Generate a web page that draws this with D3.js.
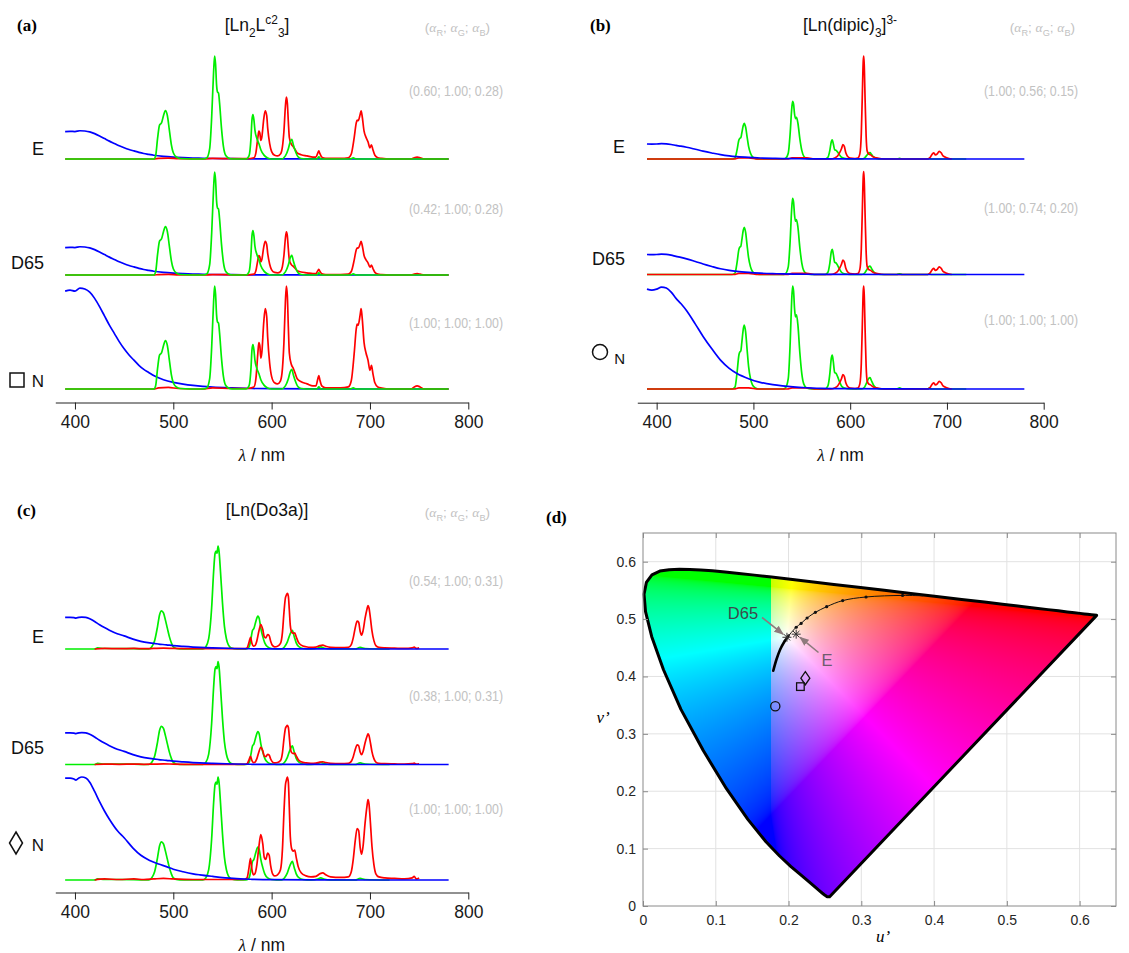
<!DOCTYPE html>
<html><head><meta charset="utf-8">
<script src="https://cdn.jsdelivr.net/npm/d3@7"></script>
<style>body{margin:0;background:#fff} text{font-family:"Liberation Sans",Arial,sans-serif}</style>
</head><body>
<svg id="chart" width="1129" height="953" xmlns="http://www.w3.org/2000/svg"></svg>
<script>
// ---------------- DATA ----------------
const wavelengthDomain = [380, 800];
const majorTicks = [400, 500, 600, 700, 800];
const minorTicks = d3.range(380, 801, 10);
const rowNames = ["E", "D65", "N"];

// Panel (a) [Ln2Lc23]  (normalised N-row spectra)
const blueA = [[390,0.95],[395,0.96],[400,0.95],[405,0.98],[410,0.97],[415,0.94],[420,0.88],[425,0.8],[430,0.71],[435,0.62],[440,0.54],[445,0.46],[450,0.39],[455,0.33],[460,0.28],[465,0.23],[470,0.19],[475,0.16],[480,0.13],[490,0.09],[500,0.065],[510,0.048],[520,0.035],[530,0.025],[540,0.018],[560,0.01],[580,0.005],[600,0.003],[650,0.001],[700,0],[780,0]];
const greenA = [[390,0],[480,0],[482,0.03],[484,0.2],[486,0.33],[487,0.34],[488,0.35],[490,0.42],[492,0.47],[494,0.42],[496,0.28],[498,0.14],[500,0.06],[503,0.02],[507,0.005],[530,0],[534,0.01],[537,0.1],[539,0.4],[541,0.85],[542,1.0],[543,0.92],[544,0.72],[545,0.65],[546,0.64],[547,0.55],[549,0.3],[551,0.12],[553,0.04],[556,0.01],[560,0],[574,0],[577,0.03],[579,0.2],[580,0.38],[581,0.43],[582,0.38],[583,0.28],[585,0.2],[587,0.15],[589,0.09],[592,0.04],[596,0.01],[600,0],[610,0],[614,0.03],[617,0.1],[619,0.17],[620.5,0.19],[622,0.14],[624,0.08],[627,0.02],[630,0.005],[640,0],[646,0],[648,0.02],[650,0],[680,0],[683,0.01],[686,0],[780,0]];
const redA = [[390,0],[480,0],[485,0.01],[495,0.015],[505,0.005],[530,0],[540,0.01],[560,0.005],[575,0.005],[582,0.02],[584,0.1],[586,0.35],[587,0.45],[588,0.42],[589,0.3],[590,0.35],[592,0.65],[593.5,0.78],[595,0.7],[596,0.5],[598,0.25],[600,0.12],[603,0.06],[606,0.05],[609,0.08],[611,0.2],[612.5,0.45],[614,0.85],[615,1.0],[616,0.9],[617,0.6],[618,0.35],[620,0.24],[622,0.2],[624,0.15],[626,0.1],[630,0.07],[636,0.05],[642,0.03],[645,0.03],[647,0.1],[648,0.13],[649,0.09],[651,0.03],[655,0.01],[670,0.01],[678,0.02],[681,0.08],[684,0.35],[686,0.58],[687,0.63],[688,0.62],[690,0.72],[691,0.78],[692,0.7],[694,0.45],[696,0.35],[698,0.28],[700,0.18],[701.5,0.23],[703,0.15],[705,0.06],[708,0.02],[712,0.01],[720,0],[742,0],[745,0.02],[748,0.03],[751,0.02],[755,0],[780,0]];
const alphaA = [[0.60,1.00,0.28],[0.42,1.00,0.28],[1.00,1.00,1.00]];

// Panel (b) [Ln(dipic)3]3-
const blueB = [[390,0.97],[395,0.96],[400,0.97],[405,0.99],[410,0.98],[415,0.94],[420,0.88],[425,0.83],[431,0.76],[440,0.63],[448,0.51],[457,0.39],[466,0.28],[475,0.2],[483,0.15],[495,0.1],[507,0.065],[520,0.042],[530,0.03],[541,0.02],[555,0.012],[570,0.007],[600,0.003],[650,0.001],[700,0],[780,0]];
const greenB = [[390,0],[478,0],[481,0.02],[483,0.15],[485,0.33],[486,0.36],[487,0.37],[488,0.45],[489.5,0.58],[490.5,0.62],[492,0.55],[493.5,0.38],[495,0.22],[497,0.1],[499,0.04],[502,0.01],[506,0],[530,0],[533,0.01],[536,0.1],[538,0.45],[539.5,0.85],[540.5,1.0],[541.5,0.95],[542.5,0.78],[543.5,0.7],[544.5,0.72],[546,0.62],[548,0.35],[550,0.15],[552,0.05],[555,0.01],[560,0],[574,0],[577,0.03],[579,0.15],[580.5,0.3],[581.5,0.33],[582.5,0.27],[584,0.16],[585.5,0.15],[587,0.12],[589,0.07],[591,0.03],[594,0.01],[600,0],[612,0],[615,0.02],[617,0.06],[619,0.1],[620.5,0.11],[622,0.08],[624,0.04],[627,0.01],[632,0],[648,0],[651,0.01],[654,0],[680,0],[682,0.01],[684,0],[720,0]];
const redB = [[390,0],[480,0],[485,0.01],[495,0.01],[505,0],[535,0],[540,0.01],[555,0.01],[565,0],[580,0],[584,0.01],[587,0.03],[589,0.06],[591,0.1],[592.5,0.14],[594,0.12],[595.5,0.06],[597,0.03],[600,0.01],[605,0.005],[608,0.01],[610,0.05],[611.5,0.25],[612.5,0.6],[613.5,0.95],[614,1.0],[614.5,0.92],[615.5,0.55],[616.5,0.22],[617.5,0.08],[619,0.05],[621,0.04],[624,0.02],[628,0.01],[635,0],[680,0],[683,0.02],[685,0.05],[686.5,0.06],[688,0.04],[690,0.05],[692,0.075],[694,0.06],[696,0.03],[699,0.015],[702,0.005],[705,0]];
const alphaB = [[1.00,0.56,0.15],[1.00,0.74,0.20],[1.00,1.00,1.00]];

// Panel (c) [Ln(Do3a)]
const blueC = [[390,0.99],[395,0.99],[399,0.98],[401,0.97],[404,0.99],[407,1.0],[411,0.99],[415,0.95],[420,0.86],[425,0.76],[430,0.67],[435,0.59],[443,0.48],[450,0.41],[459,0.31],[467,0.24],[476,0.19],[485,0.155],[493,0.13],[500,0.105],[510,0.08],[520,0.06],[527,0.05],[540,0.035],[561,0.015],[580,0.007],[600,0.003],[650,0.001],[700,0],[780,0]];
const greenC = [[390,0],[420,0],[423,0.01],[430,0.005],[440,0.005],[460,0.003],[475,0],[478,0.02],[481,0.08],[484,0.22],[486,0.33],[488,0.37],[490,0.35],[492,0.28],[494,0.2],[496,0.12],[498,0.06],[500,0.02],[503,0.005],[510,0],[530,0],[533,0.02],[536,0.1],[539,0.4],[541,0.75],[542.5,0.93],[543.5,0.95],[544.5,0.93],[545.5,1.0],[546.5,0.95],[548,0.75],[550,0.45],[552,0.22],[554,0.1],[556,0.04],[559,0.01],[565,0],[574,0],[577,0.02],[579,0.1],[580.5,0.18],[582,0.2],[584,0.27],[586,0.32],[587.5,0.29],[589,0.2],[591,0.12],[593,0.06],[596,0.02],[600,0.005],[610,0],[613,0.02],[616,0.07],[619,0.15],[621,0.18],[623,0.12],[625,0.06],[628,0.02],[632,0.005],[640,0],[647,0.01],[650,0.02],[653,0.01],[660,0],[685,0],[690,0.015],[695,0.005],[720,0]];
const redC = [[420,0],[430,0.01],[445,0.005],[460,0.01],[470,0.005],[480,0.01],[490,0.015],[500,0.01],[520,0.005],[540,0.005],[560,0.005],[572,0.005],[575,0.02],[577,0.12],[578.5,0.21],[580,0.1],[581.5,0.05],[583,0.06],[585,0.15],[587,0.32],[589,0.44],[591,0.35],[592.5,0.22],[594,0.2],[596,0.26],[597.5,0.24],[599,0.14],[601,0.06],[603,0.04],[606,0.05],[609,0.1],[611,0.3],[612.5,0.65],[614,0.92],[615,0.97],[616,1.0],[617,0.95],[618,0.7],[619,0.42],[620.5,0.3],[622,0.28],[623.5,0.29],[625,0.22],[627,0.13],[630,0.07],[635,0.04],[640,0.03],[645,0.035],[649,0.06],[652,0.07],[655,0.05],[660,0.03],[670,0.025],[678,0.03],[681,0.08],[683,0.2],[685,0.38],[687,0.5],[688.5,0.48],[690,0.32],[691.5,0.25],[693,0.33],[695,0.55],[697,0.72],[698,0.78],[699,0.74],[700.5,0.55],[702,0.33],[704,0.15],[706,0.06],[709,0.03],[715,0.02],[725,0.015],[735,0.01],[743,0.02],[745,0.035],[747,0.01],[750,0.02]];
const alphaC = [[0.54,1.00,0.31],[0.38,1.00,0.31],[1.00,1.00,1.00]];

// Panel (d) CIE 1976 u'v'
const uvTicks = [0, 0.1, 0.2, 0.3, 0.4, 0.5, 0.6];
// CIE 1931 2-deg spectral locus chromaticities [nm, x, y]
const spectralLocusXY = [[380,0.1741,0.0050],[385,0.1740,0.0050],[390,0.1738,0.0049],[395,0.1736,0.0049],[400,0.1733,0.0048],[405,0.1730,0.0048],[410,0.1726,0.0048],[415,0.1721,0.0048],[420,0.1714,0.0051],[425,0.1703,0.0058],[430,0.1689,0.0069],[435,0.1669,0.0086],[440,0.1644,0.0109],[445,0.1611,0.0138],[450,0.1566,0.0177],[455,0.1510,0.0227],[460,0.1440,0.0297],[465,0.1355,0.0399],[470,0.1241,0.0578],[475,0.1096,0.0868],[480,0.0913,0.1327],[485,0.0687,0.2007],[490,0.0454,0.2950],[495,0.0235,0.4127],[500,0.0082,0.5384],[505,0.0039,0.6548],[510,0.0139,0.7502],[515,0.0389,0.8120],[520,0.0743,0.8338],[525,0.1142,0.8262],[530,0.1547,0.8059],[535,0.1929,0.7816],[540,0.2296,0.7543],[545,0.2658,0.7243],[550,0.3016,0.6923],[555,0.3373,0.6589],[560,0.3731,0.6245],[565,0.4087,0.5896],[570,0.4441,0.5547],[575,0.4788,0.5202],[580,0.5125,0.4866],[585,0.5448,0.4544],[590,0.5752,0.4242],[595,0.6029,0.3965],[600,0.6270,0.3725],[605,0.6482,0.3514],[610,0.6658,0.3340],[615,0.6801,0.3197],[620,0.6915,0.3083],[625,0.7006,0.2993],[630,0.7079,0.2920],[635,0.7140,0.2859],[640,0.7190,0.2809],[645,0.7230,0.2770],[650,0.7260,0.2740],[655,0.7283,0.2717],[660,0.7300,0.2700],[665,0.7311,0.2689],[670,0.7320,0.2680],[680,0.7334,0.2666],[700,0.7347,0.2653]];
const fillSeamU = 0.1754; // u' left of which the fill shows no red component
// Planckian locus (u', v')
const planckThick = [[0.179,0.410],[0.1835,0.430],[0.1885,0.447],[0.194,0.460],[0.2,0.471]];
const planckThin = [[0.2,0.471],[0.2055,0.479],[0.2105,0.4858],[0.2173,0.4925],[0.2255,0.5019],[0.2369,0.5117],[0.2524,0.5216],[0.2744,0.5322],[0.3065,0.5385],[0.3567,0.5412],[0.385,0.5405]];
const planckDots = [[0.2105,0.4858],[0.2173,0.4925],[0.2255,0.5019],[0.2369,0.5117],[0.2524,0.5216],[0.2744,0.5322],[0.3065,0.5385],[0.3567,0.5412]];
const whitePointNames = ["D65", "E"];
const whitePointU = [0.1978, 0.2105];
const whitePointV = [0.4683, 0.4737];
const sampleSymbols = ["square", "circle", "diamond"];
const sampleU = [0.2163, 0.1818, 0.2231];
const sampleV = [0.3823, 0.3480, 0.3969];

// ---------------- DRAWING ----------------
const svg = d3.select("#chart");
const defs = svg.append("defs");
const colors = {red: "#ff0000", green: "#00ee00", blue: "#0000ff"};
const ALPHA_GRAY = "#c2c2c2";
const SERIF = "'Liberation Serif', 'DejaVu Serif', serif";

function rich(g, x, y, parts, o) {
  const t = g.append("text").attr("x", x).attr("y", y)
    .attr("text-anchor", o.anchor || "start").attr("font-size", o.size)
    .attr("fill", o.fill || "#111");
  let cur = 0;
  parts.forEach(p => {
    const shift = p.sub ? o.size * 0.32 : p.sup ? -o.size * 0.42 : 0;
    const ts = t.append("tspan").text(p.t).attr("dy", shift - cur);
    cur = shift;
    if (p.sub || p.sup) ts.attr("font-size", o.size * 0.68);
    if (p.italic) ts.attr("font-style", "italic");
    if (p.serif) ts.style("font-family", SERIF);
  });
  return t;
}
const greekParts = [{t:"("},{t:"α",italic:true,serif:true},{t:"R",sub:true},{t:"; "},{t:"α",italic:true,serif:true},{t:"G",sub:true},{t:"; "},{t:"α",italic:true,serif:true},{t:"B",sub:true},{t:")"}];

const spectraPanels = [
  {label:"(a)", blue:blueA, green:greenA, red:redA, alpha:alphaA, order:["blue","red","green"],
   x0:55.3, x1:468.3, baselines:[159,275,389], axisY:402.5, top:25,
   title:[{t:"[Ln"},{t:"2",sub:true},{t:"L"},{t:"c2",sup:true},{t:"3",sub:true},{t:"]"}], titleX:257,
   labelX:17, greekRight:490, valRight:503, valY:[90,208,322],
   rowRight:44, rowY:[148,262,380], marker:"square", markerX:17, markerY:380, nSize:17},
  {label:"(b)", blue:blueB, green:greenB, red:redB, alpha:alphaB, order:["green","red","blue"],
   x0:637.3, x1:1043.7, baselines:[159,274.5,389], axisY:402.7, top:25,
   title:[{t:"[Ln(dipic)"},{t:"3",sub:true},{t:"]"},{t:"3-",sup:true}], titleX:850,
   labelX:590, greekRight:1075, valRight:1078, valY:[90,207,319],
   rowRight:625, rowY:[146,258,357], marker:"circle", markerX:600, markerY:352, nSize:15},
  {label:"(c)", blue:blueC, green:greenC, red:redC, alpha:alphaC, order:["green","red","blue"],
   x0:55.3, x1:468.3, baselines:[649,764.5,880], axisY:892.5, top:510,
   title:[{t:"[Ln(Do3a)]"}], titleX:267,
   labelX:17, greekRight:490, valRight:503, valY:[580,695,808],
   rowRight:44, rowY:[636,747,844], marker:"diamond", markerX:16, markerY:843, nSize:17}
];
const ROW_H = 103;

spectraPanels.forEach(P => {
  const g = svg.append("g");
  const x = d3.scaleLinear().domain(wavelengthDomain).range([P.x0, P.x1]);
  g.append("text").attr("x", P.labelX).attr("y", P.top + 6).attr("font-size", 17)
    .attr("font-weight", "bold").style("font-family", SERIF).text(P.label);
  rich(g, P.titleX, P.top + 6, P.title, {anchor:"middle", size:17.5, fill:"#111"});
  rich(g, P.greekRight, P.top + 7, greekParts, {anchor:"end", size:13.5, fill:ALPHA_GRAY});

  P.baselines.forEach((b, r) => {
    const y = d3.scaleLinear().domain([0, 1]).range([b, b - ROW_H]);
    const a = P.alpha[r];
    const scaleOf = {red: a[0], green: a[1], blue: a[2]};
    P.order.forEach(ch => {
      const line = d3.line().x(d => x(d[0])).y(d => y(d[1] * scaleOf[ch])).curve(d3.curveMonotoneX);
      g.append("path").datum(P[ch]).attr("d", line).attr("fill", "none")
        .attr("stroke", colors[ch]).attr("stroke-width", 1.7).attr("stroke-linejoin", "round");
    });
    g.append("text").attr("x", P.valRight).attr("y", P.valY[r] + 5.5).attr("text-anchor", "end")
      .attr("font-size", 14.5).attr("fill", ALPHA_GRAY)
      .attr("textLength", 94).attr("lengthAdjust", "spacingAndGlyphs")
      .text("(" + a.map(v => v.toFixed(2)).join("; ") + ")");
    g.append("text").attr("x", P.rowRight).attr("y", P.rowY[r] + 6.5).attr("text-anchor", "end")
      .attr("font-size", r === 2 ? P.nSize : 18).attr("fill", "#111").text(rowNames[r]);
  });
  const m = g.append("g").attr("fill", "none").attr("stroke", "#111").attr("stroke-width", 1.5);
  if (P.marker === "square") m.append("rect").attr("x", P.markerX - 7).attr("y", P.markerY - 7).attr("width", 14).attr("height", 14);
  if (P.marker === "circle") m.append("circle").attr("cx", P.markerX).attr("cy", P.markerY).attr("r", 7.5);
  if (P.marker === "diamond") m.append("path").attr("d", `M${P.markerX},${P.markerY-11}L${P.markerX+6.5},${P.markerY}L${P.markerX},${P.markerY+11}L${P.markerX-6.5},${P.markerY}Z`);

  const ax = g.append("g").attr("transform", `translate(0,${P.axisY})`);
  ax.call(d3.axisBottom(x).tickValues(minorTicks).tickSize(4).tickSizeOuter(0).tickFormat(""));
  ax.call(d3.axisBottom(x).tickValues(majorTicks).tickSize(7).tickSizeOuter(0).tickPadding(6).tickFormat(d3.format("d")));
  ax.selectAll("text").attr("font-size", 17.5).attr("fill", "#1a1a1a");
  ax.selectAll("line,path").attr("stroke", "#222");
  rich(g, (P.x0 + P.x1) / 2, P.axisY + 58, [{t:"λ",italic:true,serif:true},{t:" / nm"}], {anchor:"middle", size:17.5, fill:"#111"});
});

// ---------------- Panel (d) ----------------
const gd = svg.append("g");
const uS = d3.scaleLinear().domain([0, 0.65]).range([643, 1116]);
const vS = d3.scaleLinear().domain([0, 0.65]).range([906, 533]);
const xy2uv = (x, y) => { const den = -2 * x + 12 * y + 3; return [4 * x / den, 9 * y / den]; };
const locusUV = spectralLocusXY.map(d => xy2uv(d[1], d[2]));

gd.append("text").attr("x", 546).attr("y", 523).attr("font-size", 17).attr("font-weight", "bold")
  .style("font-family", SERIF).text("(d)");

const gridVals = uvTicks.filter(d => d > 0);
gd.append("g").selectAll("line").data(gridVals).join("line")
  .attr("x1", d => uS(d)).attr("x2", d => uS(d)).attr("y1", vS(0)).attr("y2", vS(0.65))
  .attr("stroke", "#e2e2e2");
gd.append("g").selectAll("line").data(gridVals).join("line")
  .attr("y1", d => vS(d)).attr("y2", d => vS(d)).attr("x1", uS(0)).attr("x2", uS(0.65))
  .attr("stroke", "#e2e2e2");

// colour fill: XYZ(Y=1) -> linear sRGB, negatives clipped, max-normalised
const W = 473, H = 373;
const cv = document.createElement("canvas"); cv.width = W; cv.height = H;
const ctx = cv.getContext("2d"); const im = ctx.createImageData(W, H);
const gam = c => c <= 0.0031308 ? 12.92 * c : 1.055 * Math.pow(c, 1 / 2.4) - 0.055;
for (let py = 0; py < H; py++) for (let px = 0; px < W; px++) {
  const u = uS.invert(643 + px + 0.5), v = vS.invert(533 + py + 0.5);
  const den = 6 * u - 16 * v + 12; const x = 9 * u / den, y = 4 * v / den;
  if (y < 1e-4) continue;
  const X = x / y, Z = (1 - x - y) / y;
  let R = 3.2406 * X - 1.5372 - 0.4986 * Z, G = -0.9689 * X + 1.8758 + 0.0415 * Z, B = 0.0557 * X - 0.2040 + 1.0570 * Z;
  R = u < fillSeamU ? 0 : Math.max(R, 0); G = Math.max(G, 0); B = Math.max(B, 0);
  const mx = Math.max(R, G, B) || 1;
  const i = (py * W + px) * 4;
  im.data[i] = 255 * gam(R / mx); im.data[i + 1] = 255 * gam(G / mx); im.data[i + 2] = 255 * gam(B / mx); im.data[i + 3] = 255;
}
ctx.putImageData(im, 0, 0);
const locusPath = d3.line().x(d => uS(d[0])).y(d => vS(d[1]))(locusUV) + "Z";
defs.append("clipPath").attr("id", "locusClip").append("path").attr("d", locusPath);
gd.append("image").attr("href", cv.toDataURL()).attr("x", 643).attr("y", 533).attr("width", W).attr("height", H)
  .attr("clip-path", "url(#locusClip)");
gd.append("path").attr("d", locusPath).attr("fill", "none").attr("stroke", "#000").attr("stroke-width", 3).attr("stroke-linejoin", "round");

gd.append("rect").attr("x", 643).attr("y", 533).attr("width", 473).attr("height", 373).attr("fill", "none").attr("stroke", "#8a8a8a");
const fmt = d => d === 0 ? "0" : d3.format(".1f")(d);
const axB = gd.append("g").attr("transform", "translate(0,906)").call(d3.axisBottom(uS).tickValues(uvTicks).tickSize(-5).tickSizeOuter(0).tickPadding(9).tickFormat(fmt));
const axL = gd.append("g").attr("transform", "translate(643,0)").call(d3.axisLeft(vS).tickValues(uvTicks).tickSize(-5).tickSizeOuter(0).tickPadding(7).tickFormat(fmt));
const axT = gd.append("g").attr("transform", "translate(0,533)").call(d3.axisTop(uS).tickValues(uvTicks).tickSize(-5).tickSizeOuter(0).tickFormat(""));
const axR = gd.append("g").attr("transform", "translate(1116,0)").call(d3.axisRight(vS).tickValues(uvTicks).tickSize(-5).tickSizeOuter(0).tickFormat(""));
[axB, axL, axT, axR].forEach(a => { a.selectAll("line,path").attr("stroke", "#8a8a8a"); a.select(".domain").remove(); a.selectAll("text").attr("font-size", 14).attr("fill", "#262626"); });

gd.append("text").attr("x", 883).attr("y", 942).attr("text-anchor", "middle").attr("font-size", 17).attr("font-style", "italic")
  .style("font-family", SERIF).text("u’");
gd.append("text").attr("x", 603).attr("y", 723).attr("text-anchor", "middle").attr("font-size", 17).attr("font-style", "italic")
  .style("font-family", SERIF).text("v’");

const uvLine = d3.line().x(d => uS(d[0])).y(d => vS(d[1])).curve(d3.curveCatmullRom);
gd.append("path").attr("d", uvLine(planckThick)).attr("fill", "none").attr("stroke", "#000").attr("stroke-width", 2.6).attr("stroke-linecap", "round");
gd.append("path").attr("d", uvLine(planckThin)).attr("fill", "none").attr("stroke", "#111").attr("stroke-width", 1);
gd.selectAll("circle.pd").data(planckDots).join("circle").attr("cx", d => uS(d[0])).attr("cy", d => vS(d[1])).attr("r", 1.6).attr("fill", "#111");

defs.append("marker").attr("id", "arr").attr("viewBox", "0 0 10 10").attr("refX", 9).attr("refY", 5)
  .attr("markerWidth", 6).attr("markerHeight", 6).attr("orient", "auto")
  .append("path").attr("d", "M0,1L10,5L0,9Z").attr("fill", "#8d7a7c");
const arrowFrom = [[762, 617.5], [818.5, 652.5]];
const labelPos = [[743, 613], [827, 660]];
const labelCol = ["#3d4a4a", "#6e5b6e"];
whitePointNames.forEach((n, i) => {
  const px = uS(whitePointU[i]), py = vS(whitePointV[i]);
  const dx = px - arrowFrom[i][0], dy = py - arrowFrom[i][1], L = Math.hypot(dx, dy);
  gd.append("line").attr("x1", arrowFrom[i][0]).attr("y1", arrowFrom[i][1])
    .attr("x2", px - dx / L * 5).attr("y2", py - dy / L * 5)
    .attr("stroke", "#8d7a7c").attr("stroke-width", 1.6).attr("marker-end", "url(#arr)");
  gd.append("text").attr("x", labelPos[i][0]).attr("y", labelPos[i][1] + 6).attr("text-anchor", "middle")
    .attr("font-size", 16.5).attr("fill", labelCol[i]).text(n);
  const s = gd.append("g").attr("stroke", "#333").attr("stroke-width", 1);
  const r = 4.5, q = 3.2;
  s.append("line").attr("x1", px - r).attr("x2", px + r).attr("y1", py).attr("y2", py);
  s.append("line").attr("x1", px).attr("x2", px).attr("y1", py - r).attr("y2", py + r);
  s.append("line").attr("x1", px - q).attr("x2", px + q).attr("y1", py - q).attr("y2", py + q);
  s.append("line").attr("x1", px - q).attr("x2", px + q).attr("y1", py + q).attr("y2", py - q);
});

sampleSymbols.forEach((s, i) => {
  const px = uS(sampleU[i]), py = vS(sampleV[i]);
  const mg = gd.append("g").attr("fill", "none").attr("stroke", "#111").attr("stroke-width", 1.3);
  if (s === "square") mg.append("rect").attr("x", px - 3.8).attr("y", py - 3.8).attr("width", 7.6).attr("height", 7.6);
  if (s === "circle") mg.append("circle").attr("cx", px).attr("cy", py).attr("r", 4.6);
  if (s === "diamond") mg.append("path").attr("d", `M${px},${py-6.5}L${px+4.5},${py}L${px},${py+6.5}L${px-4.5},${py}Z`);
});
</script>
</body></html>
